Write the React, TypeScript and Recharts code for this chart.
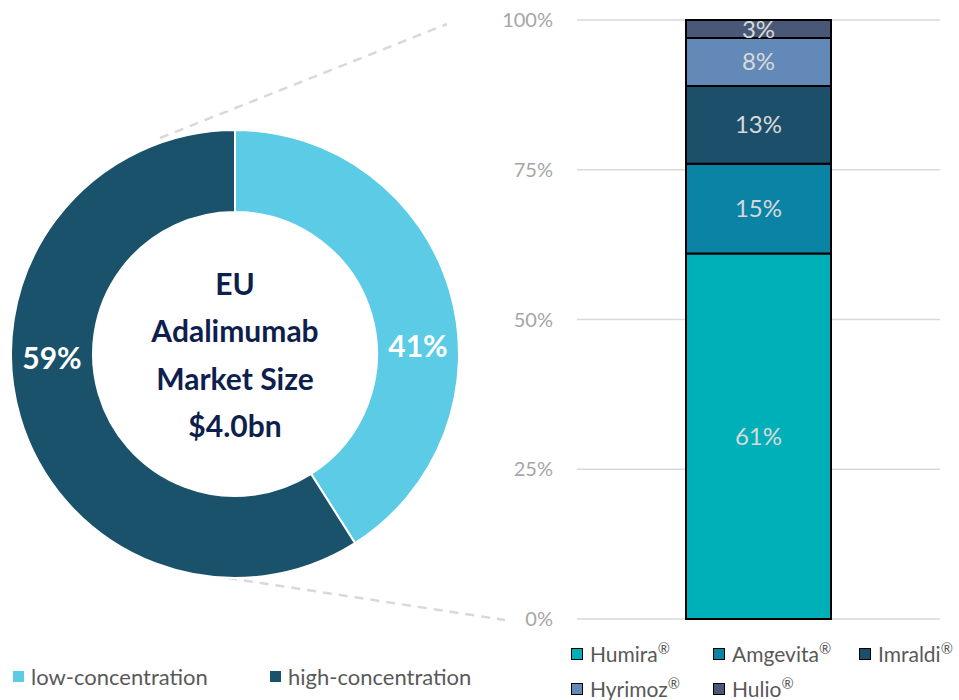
import React from "react";
import { PieChart, Pie, Cell, Label, BarChart, Bar, XAxis, YAxis, CartesianGrid, LabelList } from "recharts";

const pieNames = ["low-concentration", "high-concentration"];
const pieValues = [41, 59];
const pieColors = ["#5bcbe6", "#1a526b"];

const barNames = ["Humira®", "Amgevita®", "Imraldi®", "Hyrimoz®", "Hulio®"];
const barValues = [61, 15, 13, 8, 3];
const barColors = ["#00b0b9", "#0a83a4", "#1b4f6a", "#6389b8", "#4a5878"];
const yTicks = [0, 25, 50, 75, 100];
const centerLines = ["EU", "Adalimumab", "Market Size", "$4.0bn"];

const FONT = "Lato, 'Open Sans', sans-serif";
const GRAY_TEXT = "#595959";

const pieData = pieNames.map((name, i) => ({ name, value: pieValues[i] }));
const barRow: Record<string, string | number> = { name: "EU" };
barValues.forEach((v, i) => (barRow["s" + i] = v));
const barData = [barRow];

const PIE_CX = 235;
const PIE_CY = 354;
const PIE_R = 224;

const renderPieLabel = (props: any) => {
  const { cx, cy, midAngle, innerRadius, outerRadius, value } = props;
  const rad = (midAngle * Math.PI) / 180;
  const r = (innerRadius + outerRadius) / 2;
  const side = Math.cos(rad) >= 0 ? 1 : -1;
  const x = cx + side * r;
  const y = cy - 21 * Math.sin(rad) - 3;
  return (
    <text x={x} y={y} fill="#fff" fontSize={30} fontWeight={700} fontFamily={FONT} textAnchor="middle" dominantBaseline="central">
      {value}%
    </text>
  );
};

const CenterText = () => (
  <text textAnchor="middle" fill="#0f1f4d" fontSize={30} fontWeight={700} fontFamily={FONT}>
    {centerLines.map((line, i) => (
      <tspan key={i} x={PIE_CX} y={PIE_CY + (i - 1.5) * 47.5} dominantBaseline="central">
        {line}
      </tspan>
    ))}
  </text>
);

const LegendItem = ({ color, label, border, size }: { color: string; label: string; border?: boolean; size: number }) => {
  const parts = label.split("®");
  return (
    <span style={{ display: "inline-flex", alignItems: "center", whiteSpace: "nowrap" }}>
      <span
        style={{
          display: "inline-block",
          width: border ? 10 : 11,
          height: border ? 10 : 11,
          background: color,
          border: border ? "1.5px solid #000" : "none",
          marginRight: 7,
        }}
      />
      <span style={{ fontFamily: FONT, fontSize: size, color: GRAY_TEXT }}>
        {parts[0]}
        {parts.length > 1 && <sup style={{ fontSize: "0.7em", lineHeight: 0 }}>®</sup>}
      </span>
    </span>
  );
};

const App = () => {
  return (
    <div style={{ position: "absolute", left: 0, top: 0, width: 959, height: 700, background: "#fff" }}>
      <svg width={959} height={700} style={{ position: "absolute", left: 0, top: 0 }}>
        <line x1={160} y1={138} x2={447} y2={24} stroke="#d9d9d9" strokeWidth={2.5} strokeDasharray="9 7" />
        <line x1={228} y1={578} x2={505} y2={620} stroke="#d9d9d9" strokeWidth={2.5} strokeDasharray="9 7" />
      </svg>

      <div style={{ position: "absolute", left: 0, top: 0 }}>
        <PieChart width={470} height={640} margin={{ top: 0, right: 0, bottom: 0, left: 0 }}>
          <Pie
            data={pieData}
            dataKey="value"
            cx={PIE_CX}
            cy={PIE_CY}
            outerRadius={PIE_R}
            innerRadius={142}
            startAngle={90}
            endAngle={-270}
            stroke="#fff"
            strokeWidth={2}
            label={renderPieLabel}
            labelLine={false}
            isAnimationActive={false}
          >
            {pieData.map((d, i) => (
              <Cell key={d.name} fill={pieColors[i]} />
            ))}
            <Label position="center" content={CenterText} />
          </Pie>
        </PieChart>
      </div>

      <div style={{ position: "absolute", left: 470, top: 0 }}>
        <BarChart width={489} height={640} data={barData} margin={{ top: 20, right: 19, bottom: 21, left: 0 }}>
          <CartesianGrid vertical={false} stroke="#d9d9d9" strokeWidth={1.5} />
          <XAxis dataKey="name" hide />
          <YAxis
            domain={[0, 100]}
            ticks={yTicks}
            tickFormatter={(v: number) => v + "%"}
            axisLine={false}
            tickLine={false}
            tickMargin={18}
            width={107}
            tick={{ fill: "#a6a6a6", fontSize: 20, fontFamily: FONT }}
          />
          {barNames.map((name, i) => (
            <Bar
              key={name}
              dataKey={"s" + i}
              name={name}
              stackId="a"
              fill={barColors[i]}
              stroke="#000"
              strokeWidth={2}
              barSize={145}
              isAnimationActive={false}
            >
              <LabelList
                dataKey={"s" + i}
                position="center"
                formatter={(v: any) => v + "%"}
                fill="#d9d9d9"
                fontSize={24}
                fontFamily={FONT}
              />
            </Bar>
          ))}
        </BarChart>
      </div>

      <div style={{ position: "absolute", left: 13, top: 663, display: "grid", gridTemplateColumns: "257px 220px" }}>
        {pieNames.map((n, i) => (
          <LegendItem key={n} color={pieColors[i]} label={n} size={22} />
        ))}
      </div>

      <div
        style={{
          position: "absolute",
          left: 571,
          top: 641,
          width: 388,
          display: "grid",
          gridTemplateColumns: "142px 146px 100px",
          rowGap: 10,
        }}
      >
        {barNames.map((n, i) => (
          <LegendItem key={n} color={barColors[i]} label={n} border size={21} />
        ))}
      </div>
    </div>
  );
};

export default App;
